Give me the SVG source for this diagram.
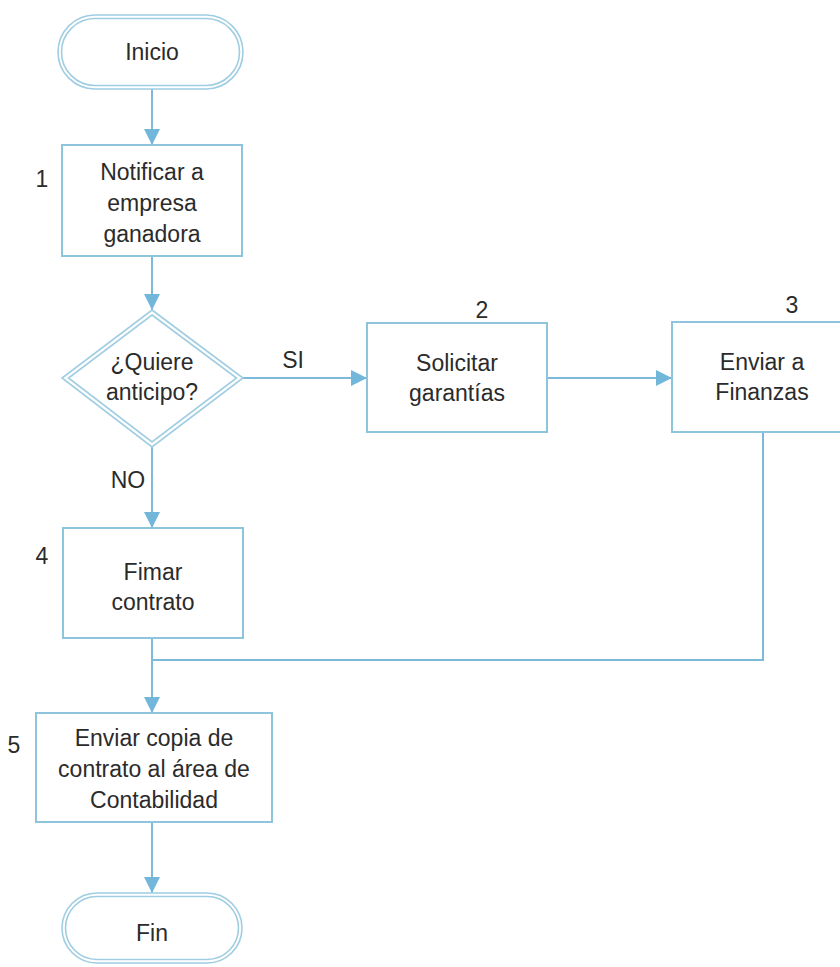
<svg xmlns="http://www.w3.org/2000/svg" width="840" height="967" viewBox="0 0 840 967">
<style>
text{font-family:"Liberation Sans",Arial,sans-serif;font-size:23px;fill:#2b2b2b;text-anchor:middle}
.box{fill:#ffffff;stroke:#8ec4dc;stroke-width:2}
.dbl{fill:none;stroke:#9fcde2;stroke-width:1.6}
.con{fill:none;stroke:#7db9d8;stroke-width:2}
</style>
<defs>
<marker id="arr" markerUnits="userSpaceOnUse" markerWidth="18" markerHeight="18" refX="16" refY="9" orient="auto">
<path d="M0,1 L16,9 L0,17 Z" fill="#72b6da"/>
</marker>
</defs>
<rect width="840" height="967" fill="#ffffff"/>
<g id="connectors">
<path class="con" d="M152,89 V145" marker-end="url(#arr)"/>
<path class="con" d="M152,256 V310" marker-end="url(#arr)"/>
<path class="con" d="M243,378 H367" marker-end="url(#arr)"/>
<path class="con" d="M547,378 H672" marker-end="url(#arr)"/>
<path class="con" d="M152,447 V528" marker-end="url(#arr)"/>
<path class="con" d="M763,432 V660 H152"/>
<path class="con" d="M152,638 V713" marker-end="url(#arr)"/>
<path class="con" d="M152,822 V893" marker-end="url(#arr)"/>
<text x="293" y="368">SI</text>
<text x="128" y="488">NO</text>
</g>
<g id="inicio">
<rect x="58" y="15" width="185" height="74" rx="37" fill="#fff" class="dbl"/>
<rect x="61.5" y="18.5" width="178" height="67" rx="33.5" class="dbl"/>
<text x="152" y="60">Inicio</text>
</g>
<g id="n1">
<rect class="box" x="62" y="145" width="180" height="111"/>
<text x="152" y="180">Notificar a</text>
<text x="152" y="211">empresa</text>
<text x="152" y="242">ganadora</text>
<text x="42" y="187">1</text>
</g>
<g id="decision">
<polygon points="152,310 243,378 152,447 62,378" fill="#fff" class="dbl"/>
<polygon points="152,315 236.5,378 152,442 68.5,378" class="dbl"/>
<text x="152" y="370">¿Quiere</text>
<text x="152" y="400">anticipo?</text>
</g>
<g id="n2">
<rect class="box" x="367" y="323" width="180" height="109"/>
<text x="457" y="371">Solicitar</text>
<text x="457" y="401">garantías</text>
<text x="482" y="318">2</text>
</g>
<g id="n3">
<rect class="box" x="672" y="322" width="180" height="110"/>
<text x="762" y="370">Enviar a</text>
<text x="762" y="400">Finanzas</text>
<text x="792" y="313">3</text>
</g>
<g id="n4">
<rect class="box" x="63" y="528" width="180" height="110"/>
<text x="153" y="580">Fimar</text>
<text x="153" y="610">contrato</text>
<text x="42" y="564">4</text>
</g>
<g id="n5">
<rect class="box" x="36" y="713" width="236" height="109"/>
<text x="154" y="746">Enviar copia de</text>
<text x="154" y="777">contrato al área de</text>
<text x="154" y="808">Contabilidad</text>
<text x="14" y="753">5</text>
</g>
<g id="fin">
<rect x="62" y="893" width="180" height="70" rx="35" fill="#fff" class="dbl"/>
<rect x="65.5" y="896.5" width="173" height="63" rx="31.5" class="dbl"/>
<text x="152" y="941">Fin</text>
</g>
</svg>
